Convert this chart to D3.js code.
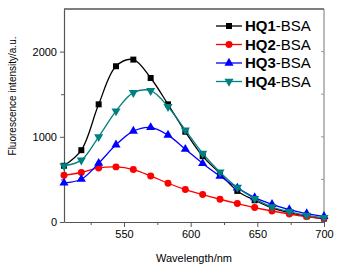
<!DOCTYPE html>
<html>
<head>
<meta charset="utf-8">
<script src="https://cdn.jsdelivr.net/npm/d3@7"></script>
<style>
body { margin: 0; background: #fff; }
text { font-family: Arial, "Liberation Sans", sans-serif; }
</style>
</head>
<body>
<svg width="339" height="268"></svg>
<script>
// emission spectra, one value every 13 nm
var wavelengths = [505, 518, 531, 544, 557, 570, 583, 596, 609, 622, 635, 648, 661, 674, 687, 700];
var hq1 = [660, 843, 1381, 1828, 1906, 1690, 1381, 1059, 773, 569, 365, 255, 165, 110, 67, 40];
var hq2 = [549, 581, 635, 647, 616, 541, 455, 381, 322, 267, 216, 169, 129, 94, 64, 40];
var hq3 = [459, 502, 690, 906, 1067, 1110, 1020, 855, 687, 538, 400, 287, 208, 146, 99, 67];
var hq4 = [659, 726, 1000, 1302, 1518, 1541, 1353, 1079, 805, 585, 405, 275, 176, 122, 79, 52];
var seriesNames = ["HQ1", "HQ2", "HQ3", "HQ4"];
var xTicks = [550, 600, 650, 700];
var yTicks = [0, 1000, 2000];

var svg = d3.select('svg');
var margin = {top: 9, right: 15, bottom: 46, left: 64};
var width = svg.attr('width') - margin.left - margin.right;
var height = svg.attr('height') - margin.top - margin.bottom;
var g = svg.append('g')
  .attr("transform", `translate(${margin.left},${margin.top})`);

var x = d3.scaleLinear().domain([505, 700]).range([0, width]);
var y = d3.scaleLinear().domain([0, 2500]).range([height, 0]);

var colors = ["#000000", "#ff0000", "#0000ff", "#008080"];
var shapes = [d3.symbolSquare, d3.symbolCircle, d3.symbolTriangle, d3.symbolTriangle];
var sizes = [36, 38, 36, 36];
var rotations = [0, 0, 0, 180];

var series = [hq1, hq2, hq3, hq4].map((vals, i) => ({
  name: seriesNames[i],
  points: wavelengths.map((w, j) => ({w: w, v: vals[j]}))
}));

// frame
g.append("line").attr("x1", 0).attr("x2", width).attr("y1", 0).attr("y2", 0)
  .attr("stroke", "#000").attr("stroke-width", 1.2);
g.append("line").attr("x1", width).attr("x2", width).attr("y1", 0).attr("y2", height)
  .attr("stroke", "#777").attr("stroke-width", 1);

// right mirror ticks
g.selectAll(".rtick").data(d3.range(500, 2500, 500)).enter().append("line")
  .attr("x1", width).attr("x2", width - 3)
  .attr("y1", d => y(d)).attr("y2", d => y(d))
  .attr("stroke", "#999");

g.append("g")
  .attr("transform", "translate(0," + height + ")")
  .call(d3.axisBottom(x).tickValues(xTicks).tickSize(5).tickSizeOuter(0).tickPadding(3).tickFormat(d3.format("d")));
g.append("g")
  .attr("transform", "translate(0," + height + ")")
  .call(d3.axisBottom(x).tickValues([525, 575, 625, 675]).tickSize(3).tickFormat("").tickSizeOuter(0))
  .select(".domain").remove();

g.append("g")
  .call(d3.axisLeft(y).tickValues(yTicks).tickSize(4).tickSizeOuter(0).tickPadding(3).tickFormat(d3.format("d")));
g.append("g")
  .call(d3.axisLeft(y).tickValues([500, 1500]).tickSize(3).tickFormat("").tickSizeOuter(0))
  .select(".domain").remove();

g.selectAll(".domain").attr("stroke", "#555").attr("stroke-width", 1.2);
g.selectAll(".tick line").attr("stroke", "#555");
g.selectAll(".tick text").attr("font-size", "11px").attr("fill", "#000");

var line = d3.line()
  .x(d => x(d.w))
  .y(d => y(d.v))
  .curve(d3.curveCatmullRom);

series.forEach((s, i) => {
  g.append("path")
    .datum(s.points)
    .attr("fill", "none")
    .attr("stroke", colors[i])
    .attr("stroke-width", 1.3)
    .attr("d", line);
  g.selectAll(".m" + i).data(s.points).enter().append("path")
    .attr("d", d3.symbol().type(shapes[i]).size(sizes[i]))
    .attr("transform", d => `translate(${x(d.w)},${y(d.v)}) rotate(${rotations[i]})`)
    .attr("fill", colors[i]);
});

// legend
var legend = svg.append("g").attr("transform", "translate(216,26)");
seriesNames.forEach((n, i) => {
  var row = legend.append("g").attr("transform", `translate(0,${i * 18.5})`);
  row.append("line").attr("x1", 0).attr("x2", 26).attr("y1", 0).attr("y2", 0)
    .attr("stroke", colors[i]).attr("stroke-width", 1.3);
  row.append("path")
    .attr("d", d3.symbol().type(shapes[i]).size(sizes[i]))
    .attr("transform", `translate(13,0) rotate(${rotations[i]})`)
    .attr("fill", colors[i]);
  var t = row.append("text").attr("x", 29).attr("y", 5).attr("font-size", "15px").attr("fill", "#000");
  t.append("tspan").attr("font-weight", "bold").text(n);
  t.append("tspan").text("-BSA");
});

// axis titles
svg.append("text")
  .attr("x", margin.left + width / 2).attr("y", 262)
  .attr("text-anchor", "middle").attr("font-size", "11px")
  .text("Wavelength/nm");
svg.append("text")
  .attr("transform", "translate(16," + 96 + ") rotate(-90)")
  .attr("text-anchor", "middle").attr("font-size", "10px")
  .text("Fluorescence intensity/a.u.");
</script>
</body>
</html>
